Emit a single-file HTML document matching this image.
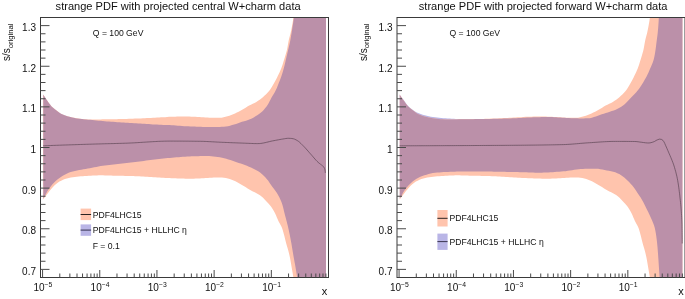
<!DOCTYPE html>
<html><head><meta charset="utf-8"><title>strange PDF</title>
<style>
html,body{margin:0;padding:0;background:#fff;}
body{width:685px;height:299px;overflow:hidden;}
svg{display:block;will-change:transform;font-family:"Liberation Sans",Arial,Helvetica,sans-serif;fill:#111;}
</style></head><body>
<svg width="685" height="299" viewBox="0 0 685 299">
<rect width="685" height="299" fill="#fff"/>
<clipPath id="c40"><rect x="40.50" y="17.50" width="288.00" height="260.00"/></clipPath>
<g clip-path="url(#c40)">
<path d="M43.20 94.50 L44.36 96.24 L45.53 97.98 L46.71 99.70 L47.88 101.44 L49.08 103.15 L50.33 104.83 L51.68 106.43 L53.20 107.84 L54.85 109.15 L56.52 110.42 L58.19 111.70 L59.90 112.92 L61.69 113.97 L63.59 114.82 L65.57 115.55 L67.55 116.20 L69.56 116.79 L71.59 117.30 L73.64 117.74 L75.70 118.13 L77.76 118.47 L79.83 118.75 L81.90 119.01 L83.98 119.24 L86.06 119.46 L88.15 119.67 L90.23 119.87 L92.31 120.08 L94.39 120.29 L96.48 120.48 L98.56 120.67 L100.64 120.86 L102.73 121.03 L104.81 121.21 L106.90 121.38 L108.98 121.55 L111.07 121.71 L113.15 121.87 L115.24 122.02 L117.33 122.16 L119.41 122.30 L121.50 122.44 L123.59 122.58 L125.68 122.71 L127.76 122.84 L129.85 122.97 L131.94 123.09 L134.03 123.22 L136.12 123.34 L138.20 123.46 L140.29 123.59 L142.38 123.71 L144.47 123.84 L146.56 123.98 L148.64 124.11 L150.73 124.25 L152.82 124.38 L154.91 124.51 L157.00 124.62 L159.09 124.73 L161.17 124.83 L163.26 124.92 L165.35 124.99 L167.45 125.04 L169.54 125.09 L171.63 125.17 L173.71 125.31 L175.80 125.48 L177.88 125.67 L179.97 125.85 L182.05 126.01 L184.14 126.14 L186.23 126.25 L188.32 126.35 L190.41 126.45 L192.50 126.54 L194.59 126.62 L196.68 126.70 L198.77 126.77 L200.86 126.86 L202.95 126.94 L205.04 127.01 L207.13 127.07 L209.22 127.10 L211.31 127.10 L213.41 127.08 L215.50 127.05 L217.59 127.00 L219.68 126.94 L221.77 126.86 L223.86 126.70 L225.94 126.47 L228.00 126.15 L230.03 125.67 L232.06 125.10 L234.07 124.51 L236.06 123.89 L238.04 123.21 L240.02 122.52 L242.01 121.87 L244.03 121.29 L246.05 120.72 L248.03 120.08 L249.95 119.30 L251.85 118.40 L253.71 117.41 L255.52 116.35 L257.28 115.25 L259.02 114.04 L260.68 112.75 L262.23 111.38 L263.69 109.89 L265.07 108.30 L266.36 106.63 L267.55 104.92 L268.62 103.14 L269.61 101.29 L270.57 99.42 L271.56 97.57 L272.61 95.76 L273.70 93.97 L274.76 92.16 L275.74 90.32 L276.62 88.43 L277.43 86.50 L278.20 84.55 L278.96 82.60 L279.72 80.65 L280.48 78.70 L281.20 76.74 L281.88 74.76 L282.51 72.77 L283.10 70.76 L283.67 68.74 L284.20 66.72 L284.70 64.69 L285.18 62.66 L285.66 60.62 L286.13 58.58 L286.60 56.54 L287.07 54.50 L287.53 52.46 L288.00 50.42 L288.49 48.39 L288.99 46.36 L289.49 44.33 L289.94 42.29 L290.34 40.23 L290.71 38.17 L291.05 36.11 L291.39 34.05 L291.73 31.98 L292.06 29.92 L292.38 27.85 L292.70 25.78 L293.01 23.71 L293.32 21.64 L293.61 19.57 L293.90 17.50 L326.00 17.50 L326.00 277.50 L297.20 277.50 L296.87 275.34 L296.52 273.19 L296.17 271.04 L295.81 268.89 L295.43 266.74 L295.04 264.60 L294.65 262.45 L294.25 260.31 L293.86 258.16 L293.48 256.01 L293.11 253.87 L292.75 251.71 L292.40 249.56 L292.05 247.41 L291.70 245.26 L291.32 243.11 L290.93 240.97 L290.53 238.82 L290.11 236.68 L289.69 234.54 L289.25 232.40 L288.80 230.27 L288.33 228.14 L287.84 226.02 L287.31 223.90 L286.76 221.79 L286.22 219.68 L285.65 217.57 L285.08 215.47 L284.52 213.36 L284.00 211.24 L283.52 209.11 L283.03 206.98 L282.47 204.89 L281.73 202.83 L280.91 200.81 L280.02 198.81 L279.07 196.84 L278.06 194.92 L276.93 193.06 L275.69 191.26 L274.42 189.48 L273.07 187.77 L271.76 186.03 L270.55 184.21 L269.35 182.38 L268.09 180.61 L266.71 178.92 L265.26 177.29 L263.73 175.74 L262.13 174.26 L260.44 172.86 L258.68 171.58 L256.83 170.41 L254.93 169.38 L252.97 168.42 L250.98 167.51 L248.97 166.65 L246.94 165.83 L244.91 165.05 L242.87 164.30 L240.80 163.60 L238.73 162.91 L236.66 162.22 L234.59 161.52 L232.53 160.80 L230.46 160.10 L228.39 159.43 L226.29 158.83 L224.19 158.28 L222.06 157.76 L219.92 157.31 L217.78 156.97 L215.62 156.68 L213.45 156.40 L211.27 156.18 L209.09 156.03 L206.92 156.00 L204.74 156.01 L202.56 156.04 L200.38 156.09 L198.20 156.14 L196.02 156.20 L193.84 156.27 L191.66 156.34 L189.48 156.42 L187.30 156.52 L185.12 156.64 L182.95 156.79 L180.77 156.95 L178.60 157.13 L176.42 157.32 L174.25 157.51 L172.08 157.71 L169.91 157.91 L167.74 158.11 L165.57 158.33 L163.40 158.56 L161.23 158.79 L159.07 159.04 L156.90 159.30 L154.74 159.56 L152.57 159.82 L150.41 160.09 L148.24 160.36 L146.08 160.62 L143.91 160.89 L141.75 161.15 L139.58 161.41 L137.42 161.67 L135.25 161.93 L133.09 162.19 L130.92 162.45 L128.76 162.72 L126.59 162.98 L124.43 163.25 L122.26 163.52 L120.10 163.78 L117.93 164.04 L115.77 164.31 L113.60 164.56 L111.44 164.81 L109.27 165.04 L107.10 165.28 L104.93 165.53 L102.77 165.81 L100.61 166.11 L98.46 166.46 L96.32 166.89 L94.19 167.35 L92.05 167.79 L89.91 168.19 L87.76 168.57 L85.61 168.94 L83.46 169.30 L81.31 169.69 L79.17 170.10 L77.04 170.55 L74.90 171.01 L72.77 171.53 L70.68 172.12 L68.64 172.84 L66.64 173.73 L64.69 174.71 L62.78 175.77 L60.92 176.92 L59.13 178.15 L57.38 179.48 L55.71 180.89 L54.15 182.39 L52.68 184.01 L51.29 185.69 L49.95 187.41 L48.68 189.19 L47.49 191.02 L46.43 192.92 L45.46 194.88 L44.43 196.80 L43.20 198.60Z" fill="#b9b5e6"/>
<defs><path id="oc40" d="M43.20 94.60 L44.32 96.28 L45.45 97.96 L46.59 99.63 L47.72 101.30 L48.87 102.96 L50.07 104.59 L51.34 106.16 L52.77 107.56 L54.33 108.85 L55.95 110.08 L57.56 111.31 L59.19 112.53 L60.88 113.63 L62.66 114.53 L64.54 115.30 L66.46 115.96 L68.39 116.53 L70.36 117.03 L72.33 117.45 L74.31 117.83 L76.31 118.17 L78.31 118.44 L80.31 118.69 L82.32 118.93 L84.33 119.16 L86.35 119.36 L88.36 119.50 L90.38 119.59 L92.40 119.60 L94.42 119.56 L96.44 119.50 L98.46 119.44 L100.48 119.39 L102.50 119.36 L104.52 119.34 L106.54 119.31 L108.56 119.29 L110.58 119.27 L112.59 119.24 L114.61 119.21 L116.63 119.17 L118.65 119.12 L120.67 119.08 L122.69 119.02 L124.71 118.96 L126.73 118.90 L128.75 118.83 L130.77 118.76 L132.79 118.69 L134.81 118.62 L136.82 118.54 L138.84 118.46 L140.86 118.39 L142.88 118.30 L144.90 118.22 L146.91 118.12 L148.93 118.03 L150.95 117.93 L152.97 117.82 L154.98 117.71 L157.00 117.60 L159.02 117.49 L161.04 117.37 L163.05 117.25 L165.07 117.13 L167.08 116.99 L169.10 116.84 L171.11 116.76 L173.13 116.69 L175.15 116.63 L177.17 116.58 L179.19 116.54 L181.21 116.51 L183.23 116.50 L185.25 116.51 L187.27 116.55 L189.29 116.61 L191.31 116.68 L193.33 116.76 L195.35 116.84 L197.37 116.92 L199.38 117.04 L201.40 117.18 L203.41 117.33 L205.43 117.48 L207.45 117.60 L209.46 117.68 L211.48 117.72 L213.51 117.75 L215.53 117.77 L217.56 117.79 L219.57 117.80 L221.57 117.75 L223.55 117.31 L225.52 116.84 L227.47 116.31 L229.38 115.66 L231.27 114.93 L233.15 114.20 L235.02 113.43 L236.85 112.59 L238.64 111.66 L240.41 110.67 L242.16 109.66 L243.92 108.66 L245.66 107.63 L247.39 106.59 L249.14 105.58 L250.92 104.63 L252.75 103.75 L254.57 102.88 L256.34 101.92 L258.05 100.84 L259.72 99.69 L261.33 98.46 L262.88 97.18 L264.39 95.84 L265.86 94.43 L267.28 92.97 L268.63 91.46 L269.88 89.90 L271.03 88.26 L272.10 86.54 L273.12 84.78 L274.11 83.01 L275.10 81.25 L276.05 79.47 L276.98 77.67 L277.88 75.86 L278.76 74.04 L279.61 72.21 L280.44 70.36 L281.22 68.50 L281.92 66.61 L282.56 64.70 L283.16 62.77 L283.75 60.83 L284.34 58.90 L284.94 56.97 L285.53 55.03 L286.10 53.09 L286.62 51.15 L287.08 49.18 L287.47 47.20 L287.82 45.21 L288.17 43.22 L288.54 41.23 L288.97 39.26 L289.48 37.31 L290.02 35.36 L290.51 33.40 L290.94 31.43 L291.35 29.45 L291.75 27.47 L292.13 25.49 L292.48 23.50 L292.82 21.51 L293.12 19.51 L293.40 17.50 L326.00 17.50 L326.00 277.50 L293.40 277.50 L293.06 275.51 L292.72 273.52 L292.37 271.53 L292.02 269.55 L291.68 267.56 L291.35 265.56 L291.01 263.57 L290.67 261.58 L290.32 259.59 L289.94 257.61 L289.54 255.64 L289.09 253.68 L288.60 251.72 L288.06 249.78 L287.49 247.84 L286.93 245.90 L286.37 243.96 L285.83 242.01 L285.33 240.04 L284.85 238.07 L284.37 236.10 L283.87 234.13 L283.35 232.18 L282.77 230.26 L282.13 228.37 L281.38 226.53 L280.46 224.73 L279.48 222.95 L278.52 221.16 L277.67 219.33 L276.87 217.47 L276.09 215.60 L275.27 213.75 L274.38 211.96 L273.39 210.21 L272.31 208.49 L271.17 206.81 L269.96 205.20 L268.65 203.68 L267.23 202.24 L265.81 200.80 L264.42 199.31 L263.03 197.84 L261.56 196.46 L259.98 195.26 L258.27 194.18 L256.50 193.17 L254.71 192.24 L252.88 191.38 L251.07 190.49 L249.33 189.48 L247.61 188.42 L245.88 187.37 L244.14 186.35 L242.40 185.33 L240.67 184.30 L238.95 183.22 L237.23 182.16 L235.45 181.24 L233.59 180.45 L231.70 179.74 L229.79 179.08 L227.86 178.44 L225.91 177.98 L223.91 177.65 L221.90 177.43 L219.89 177.41 L217.87 177.45 L215.86 177.53 L213.84 177.62 L211.82 177.72 L209.80 177.82 L207.79 177.93 L205.77 178.05 L203.76 178.18 L201.75 178.31 L199.73 178.41 L197.72 178.52 L195.70 178.62 L193.68 178.72 L191.67 178.78 L189.65 178.80 L187.63 178.76 L185.61 178.70 L183.60 178.62 L181.58 178.55 L179.56 178.48 L177.55 178.41 L175.53 178.33 L173.51 178.25 L171.50 178.17 L169.48 178.08 L167.47 177.98 L165.45 177.88 L163.44 177.77 L161.42 177.66 L159.41 177.54 L157.39 177.42 L155.38 177.31 L153.36 177.19 L151.35 177.07 L149.33 176.96 L147.32 176.84 L145.30 176.72 L143.29 176.60 L141.27 176.47 L139.26 176.36 L137.24 176.25 L135.23 176.16 L133.21 176.09 L131.20 176.03 L129.18 175.98 L127.16 175.94 L125.14 175.90 L123.13 175.86 L121.11 175.83 L119.09 175.79 L117.07 175.75 L115.05 175.70 L113.04 175.65 L111.02 175.58 L109.00 175.51 L106.98 175.44 L104.97 175.38 L102.95 175.33 L100.93 175.30 L98.92 175.31 L96.90 175.38 L94.88 175.50 L92.87 175.62 L90.85 175.73 L88.84 175.84 L86.82 175.94 L84.81 176.05 L82.79 176.17 L80.78 176.30 L78.77 176.45 L76.76 176.64 L74.75 176.89 L72.76 177.20 L70.77 177.57 L68.80 178.00 L66.85 178.50 L64.92 179.11 L63.03 179.82 L61.19 180.65 L59.40 181.61 L57.70 182.70 L56.11 183.91 L54.61 185.28 L53.19 186.72 L51.85 188.22 L50.57 189.79 L49.31 191.37 L48.06 192.96 L46.84 194.56 L45.61 196.17 L44.40 197.78 L43.20 199.40Z"/></defs>
<use href="#oc40" fill="#ffc4ad"/>
<clipPath id="bc40"><path d="M43.20 94.50 L44.36 96.24 L45.53 97.98 L46.71 99.70 L47.88 101.44 L49.08 103.15 L50.33 104.83 L51.68 106.43 L53.20 107.84 L54.85 109.15 L56.52 110.42 L58.19 111.70 L59.90 112.92 L61.69 113.97 L63.59 114.82 L65.57 115.55 L67.55 116.20 L69.56 116.79 L71.59 117.30 L73.64 117.74 L75.70 118.13 L77.76 118.47 L79.83 118.75 L81.90 119.01 L83.98 119.24 L86.06 119.46 L88.15 119.67 L90.23 119.87 L92.31 120.08 L94.39 120.29 L96.48 120.48 L98.56 120.67 L100.64 120.86 L102.73 121.03 L104.81 121.21 L106.90 121.38 L108.98 121.55 L111.07 121.71 L113.15 121.87 L115.24 122.02 L117.33 122.16 L119.41 122.30 L121.50 122.44 L123.59 122.58 L125.68 122.71 L127.76 122.84 L129.85 122.97 L131.94 123.09 L134.03 123.22 L136.12 123.34 L138.20 123.46 L140.29 123.59 L142.38 123.71 L144.47 123.84 L146.56 123.98 L148.64 124.11 L150.73 124.25 L152.82 124.38 L154.91 124.51 L157.00 124.62 L159.09 124.73 L161.17 124.83 L163.26 124.92 L165.35 124.99 L167.45 125.04 L169.54 125.09 L171.63 125.17 L173.71 125.31 L175.80 125.48 L177.88 125.67 L179.97 125.85 L182.05 126.01 L184.14 126.14 L186.23 126.25 L188.32 126.35 L190.41 126.45 L192.50 126.54 L194.59 126.62 L196.68 126.70 L198.77 126.77 L200.86 126.86 L202.95 126.94 L205.04 127.01 L207.13 127.07 L209.22 127.10 L211.31 127.10 L213.41 127.08 L215.50 127.05 L217.59 127.00 L219.68 126.94 L221.77 126.86 L223.86 126.70 L225.94 126.47 L228.00 126.15 L230.03 125.67 L232.06 125.10 L234.07 124.51 L236.06 123.89 L238.04 123.21 L240.02 122.52 L242.01 121.87 L244.03 121.29 L246.05 120.72 L248.03 120.08 L249.95 119.30 L251.85 118.40 L253.71 117.41 L255.52 116.35 L257.28 115.25 L259.02 114.04 L260.68 112.75 L262.23 111.38 L263.69 109.89 L265.07 108.30 L266.36 106.63 L267.55 104.92 L268.62 103.14 L269.61 101.29 L270.57 99.42 L271.56 97.57 L272.61 95.76 L273.70 93.97 L274.76 92.16 L275.74 90.32 L276.62 88.43 L277.43 86.50 L278.20 84.55 L278.96 82.60 L279.72 80.65 L280.48 78.70 L281.20 76.74 L281.88 74.76 L282.51 72.77 L283.10 70.76 L283.67 68.74 L284.20 66.72 L284.70 64.69 L285.18 62.66 L285.66 60.62 L286.13 58.58 L286.60 56.54 L287.07 54.50 L287.53 52.46 L288.00 50.42 L288.49 48.39 L288.99 46.36 L289.49 44.33 L289.94 42.29 L290.34 40.23 L290.71 38.17 L291.05 36.11 L291.39 34.05 L291.73 31.98 L292.06 29.92 L292.38 27.85 L292.70 25.78 L293.01 23.71 L293.32 21.64 L293.61 19.57 L293.90 17.50 L326.00 17.50 L326.00 277.50 L297.20 277.50 L296.87 275.34 L296.52 273.19 L296.17 271.04 L295.81 268.89 L295.43 266.74 L295.04 264.60 L294.65 262.45 L294.25 260.31 L293.86 258.16 L293.48 256.01 L293.11 253.87 L292.75 251.71 L292.40 249.56 L292.05 247.41 L291.70 245.26 L291.32 243.11 L290.93 240.97 L290.53 238.82 L290.11 236.68 L289.69 234.54 L289.25 232.40 L288.80 230.27 L288.33 228.14 L287.84 226.02 L287.31 223.90 L286.76 221.79 L286.22 219.68 L285.65 217.57 L285.08 215.47 L284.52 213.36 L284.00 211.24 L283.52 209.11 L283.03 206.98 L282.47 204.89 L281.73 202.83 L280.91 200.81 L280.02 198.81 L279.07 196.84 L278.06 194.92 L276.93 193.06 L275.69 191.26 L274.42 189.48 L273.07 187.77 L271.76 186.03 L270.55 184.21 L269.35 182.38 L268.09 180.61 L266.71 178.92 L265.26 177.29 L263.73 175.74 L262.13 174.26 L260.44 172.86 L258.68 171.58 L256.83 170.41 L254.93 169.38 L252.97 168.42 L250.98 167.51 L248.97 166.65 L246.94 165.83 L244.91 165.05 L242.87 164.30 L240.80 163.60 L238.73 162.91 L236.66 162.22 L234.59 161.52 L232.53 160.80 L230.46 160.10 L228.39 159.43 L226.29 158.83 L224.19 158.28 L222.06 157.76 L219.92 157.31 L217.78 156.97 L215.62 156.68 L213.45 156.40 L211.27 156.18 L209.09 156.03 L206.92 156.00 L204.74 156.01 L202.56 156.04 L200.38 156.09 L198.20 156.14 L196.02 156.20 L193.84 156.27 L191.66 156.34 L189.48 156.42 L187.30 156.52 L185.12 156.64 L182.95 156.79 L180.77 156.95 L178.60 157.13 L176.42 157.32 L174.25 157.51 L172.08 157.71 L169.91 157.91 L167.74 158.11 L165.57 158.33 L163.40 158.56 L161.23 158.79 L159.07 159.04 L156.90 159.30 L154.74 159.56 L152.57 159.82 L150.41 160.09 L148.24 160.36 L146.08 160.62 L143.91 160.89 L141.75 161.15 L139.58 161.41 L137.42 161.67 L135.25 161.93 L133.09 162.19 L130.92 162.45 L128.76 162.72 L126.59 162.98 L124.43 163.25 L122.26 163.52 L120.10 163.78 L117.93 164.04 L115.77 164.31 L113.60 164.56 L111.44 164.81 L109.27 165.04 L107.10 165.28 L104.93 165.53 L102.77 165.81 L100.61 166.11 L98.46 166.46 L96.32 166.89 L94.19 167.35 L92.05 167.79 L89.91 168.19 L87.76 168.57 L85.61 168.94 L83.46 169.30 L81.31 169.69 L79.17 170.10 L77.04 170.55 L74.90 171.01 L72.77 171.53 L70.68 172.12 L68.64 172.84 L66.64 173.73 L64.69 174.71 L62.78 175.77 L60.92 176.92 L59.13 178.15 L57.38 179.48 L55.71 180.89 L54.15 182.39 L52.68 184.01 L51.29 185.69 L49.95 187.41 L48.68 189.19 L47.49 191.02 L46.43 192.92 L45.46 194.88 L44.43 196.80 L43.20 198.60Z"/></clipPath>
<use href="#oc40" fill="#bb90a9" clip-path="url(#bc40)"/>
<polyline points="43.10,145.80 44.60,145.74 46.10,145.69 47.60,145.63 49.10,145.58 50.60,145.52 52.10,145.47 53.61,145.41 55.11,145.36 56.61,145.30 58.11,145.25 59.61,145.20 61.11,145.15 62.61,145.09 64.11,145.04 65.61,144.99 67.11,144.94 68.62,144.89 70.12,144.84 71.62,144.79 73.12,144.74 74.62,144.69 76.12,144.64 77.62,144.59 79.12,144.54 80.62,144.49 82.12,144.45 83.63,144.40 85.13,144.35 86.63,144.30 88.13,144.26 89.63,144.21 91.13,144.17 92.63,144.12 94.13,144.07 95.63,144.03 97.14,143.98 98.64,143.94 100.14,143.90 101.64,143.85 103.14,143.81 104.64,143.77 106.14,143.73 107.64,143.70 109.15,143.66 110.65,143.62 112.15,143.58 113.65,143.55 115.15,143.51 116.65,143.47 118.15,143.43 119.66,143.39 121.16,143.35 122.66,143.31 124.16,143.26 125.66,143.21 127.16,143.16 128.66,143.10 130.16,143.03 131.66,142.96 133.16,142.88 134.66,142.80 136.16,142.71 137.66,142.62 139.16,142.53 140.66,142.44 142.16,142.34 143.66,142.24 145.16,142.15 146.66,142.05 148.16,141.95 149.66,141.86 151.16,141.77 152.66,141.68 154.16,141.60 155.66,141.52 157.16,141.44 158.66,141.37 160.16,141.31 161.66,141.25 163.16,141.21 164.66,141.17 166.16,141.13 167.66,141.11 169.16,141.10 170.66,141.10 172.16,141.10 173.67,141.10 175.17,141.11 176.67,141.11 178.17,141.12 179.67,141.12 181.18,141.13 182.68,141.14 184.18,141.15 185.68,141.16 187.18,141.17 188.69,141.18 190.19,141.20 191.69,141.21 193.19,141.22 194.69,141.24 196.20,141.26 197.70,141.27 199.20,141.29 200.70,141.31 202.20,141.34 203.70,141.38 205.20,141.44 206.70,141.50 208.20,141.57 209.70,141.65 211.20,141.73 212.70,141.81 214.20,141.90 215.70,141.98 217.20,142.07 218.70,142.14 220.20,142.22 221.70,142.29 223.20,142.35 224.70,142.41 226.20,142.47 227.71,142.53 229.21,142.59 230.71,142.65 232.21,142.71 233.71,142.77 235.21,142.82 236.71,142.88 238.21,142.94 239.71,142.99 241.21,143.05 242.72,143.11 244.22,143.17 245.73,143.24 247.23,143.30 248.74,143.37 250.24,143.43 251.74,143.48 253.24,143.53 254.74,143.57 256.23,143.59 257.73,143.60 259.21,143.57 260.70,143.44 262.17,143.23 263.65,142.96 265.13,142.65 266.60,142.30 268.07,141.94 269.55,141.57 271.02,141.23 272.49,140.92 273.97,140.64 275.45,140.36 276.92,140.08 278.40,139.80 279.88,139.53 281.35,139.27 282.84,139.03 284.32,138.77 285.81,138.51 287.30,138.33 288.79,138.31 290.31,138.38 291.81,138.51 293.26,138.72 294.70,139.20 296.09,139.88 297.38,140.61 298.59,141.43 299.74,142.39 300.85,143.44 301.93,144.53 303.00,145.60 304.06,146.66 305.09,147.75 306.10,148.86 307.09,149.99 308.08,151.12 309.07,152.26 310.06,153.39 311.07,154.51 312.06,155.64 313.04,156.79 314.02,157.94 315.01,159.07 316.01,160.19 317.04,161.27 318.11,162.32 319.24,163.29 320.45,164.20 321.65,165.11 322.79,166.09 323.94,167.14 324.54,168.37 324.94,169.73 325.20,171.24 325.30,172.90" fill="none" stroke="#553f4e" stroke-width="0.65"/>
</g>
<rect x="40.50" y="17.50" width="288.00" height="260.00" fill="none" stroke="#3a3a3a" stroke-width="1"/>
<path d="M40.50 25.62 h9M40.50 33.75 h5M40.50 41.88 h5M40.50 50.00 h5M40.50 58.13 h5M40.50 66.25 h9M40.50 74.37 h5M40.50 82.50 h5M40.50 90.62 h5M40.50 98.75 h5M40.50 106.87 h9M40.50 115.00 h5M40.50 123.12 h5M40.50 131.25 h5M40.50 139.38 h5M40.50 147.50 h9M40.50 155.63 h5M40.50 163.75 h5M40.50 171.87 h5M40.50 180.00 h5M40.50 188.12 h9M40.50 196.25 h5M40.50 204.37 h5M40.50 212.50 h5M40.50 220.62 h5M40.50 228.75 h9M40.50 236.88 h5M40.50 245.00 h5M40.50 253.12 h5M40.50 261.25 h5M40.50 269.38 h9M42.57 277.50 v-7.5M59.79 277.50 v-4.0M69.86 277.50 v-4.0M77.00 277.50 v-4.0M82.54 277.50 v-4.0M87.07 277.50 v-4.0M90.90 277.50 v-4.0M94.22 277.50 v-4.0M97.14 277.50 v-4.0M99.76 277.50 v-7.5M116.98 277.50 v-4.0M127.05 277.50 v-4.0M134.19 277.50 v-4.0M139.73 277.50 v-4.0M144.26 277.50 v-4.0M148.09 277.50 v-4.0M151.41 277.50 v-4.0M154.33 277.50 v-4.0M156.95 277.50 v-7.5M174.17 277.50 v-4.0M184.24 277.50 v-4.0M191.38 277.50 v-4.0M196.92 277.50 v-4.0M201.45 277.50 v-4.0M205.28 277.50 v-4.0M208.60 277.50 v-4.0M211.52 277.50 v-4.0M214.14 277.50 v-7.5M231.36 277.50 v-4.0M241.43 277.50 v-4.0M248.57 277.50 v-4.0M254.11 277.50 v-4.0M258.64 277.50 v-4.0M262.47 277.50 v-4.0M265.79 277.50 v-4.0M268.71 277.50 v-4.0M271.33 277.50 v-7.5M288.55 277.50 v-4.0M298.62 277.50 v-4.0M305.76 277.50 v-4.0M311.30 277.50 v-4.0M315.83 277.50 v-4.0M319.66 277.50 v-4.0M322.98 277.50 v-4.0M325.90 277.50 v-4.0" stroke="#4a4a4a" stroke-width="1" fill="none"/>
<text x="36.00" y="31.02" text-anchor="end" font-size="10">1.3</text>
<text x="36.00" y="71.65" text-anchor="end" font-size="10">1.2</text>
<text x="36.00" y="112.28" text-anchor="end" font-size="10">1.1</text>
<text x="36.00" y="152.90" text-anchor="end" font-size="10">1</text>
<text x="36.00" y="193.53" text-anchor="end" font-size="10">0.9</text>
<text x="36.00" y="234.15" text-anchor="end" font-size="10">0.8</text>
<text x="36.00" y="274.77" text-anchor="end" font-size="10">0.7</text>
<text x="42.87" y="291" text-anchor="middle" font-size="10">10<tspan dy="-4.3" font-size="6.8">−5</tspan></text>
<text x="100.06" y="291" text-anchor="middle" font-size="10">10<tspan dy="-4.3" font-size="6.8">−4</tspan></text>
<text x="157.25" y="291" text-anchor="middle" font-size="10">10<tspan dy="-4.3" font-size="6.8">−3</tspan></text>
<text x="214.44" y="291" text-anchor="middle" font-size="10">10<tspan dy="-4.3" font-size="6.8">−2</tspan></text>
<text x="271.63" y="291" text-anchor="middle" font-size="10">10<tspan dy="-4.3" font-size="6.8">−1</tspan></text>
<text x="327.30" y="294.6" text-anchor="end" font-size="11">x</text>
<text transform="translate(10.20,61) rotate(-90)" font-size="10">s/s<tspan dy="2.5" font-size="7.7">original</tspan></text>
<text x="55.60" y="10.2" font-size="11.07">strange PDF with projected central W+charm data</text>
<text x="92.80" y="36.4" font-size="8.64">Q = 100 GeV</text>
<rect x="80.6" y="208.6" width="10.5" height="11.5" fill="#ffc4ad"/>
<path d="M80.6 214.5h10.5" stroke="#2a2220" stroke-width="1"/>
<rect x="80.6" y="224.4" width="10.5" height="11.4" fill="#b9b5e6"/>
<path d="M80.6 230.1h10.5" stroke="#4a4668" stroke-width="1.2"/>
<text x="92.7" y="217.7" font-size="8.64">PDF4LHC15</text>
<text x="92.7" y="233.2" font-size="8.64">PDF4LHC15 + HLLHC η</text>
<text x="92.7" y="248.8" font-size="8.64">F = 0.1</text>
<clipPath id="c397"><rect x="397.00" y="17.50" width="288.00" height="260.00"/></clipPath>
<g clip-path="url(#c397)">
<path d="M399.60 94.60 L400.87 96.26 L402.13 97.93 L403.39 99.61 L404.62 101.31 L405.81 103.04 L407.07 104.71 L408.49 106.24 L410.04 107.65 L411.65 109.00 L413.32 110.28 L415.08 111.38 L416.92 112.40 L418.83 113.31 L420.76 114.09 L422.74 114.75 L424.76 115.33 L426.80 115.84 L428.84 116.29 L430.90 116.68 L432.97 117.03 L435.04 117.31 L437.12 117.57 L439.20 117.80 L441.29 118.02 L443.37 118.21 L445.46 118.37 L447.55 118.50 L449.64 118.62 L451.73 118.72 L453.82 118.83 L455.92 118.92 L458.01 118.99 L460.11 119.05 L462.20 119.09 L464.29 119.10 L466.39 119.10 L468.48 119.09 L470.58 119.09 L472.67 119.08 L474.76 119.07 L476.86 119.05 L478.95 119.04 L481.05 119.02 L483.14 119.01 L485.24 118.99 L487.33 118.96 L489.42 118.93 L491.52 118.90 L493.61 118.85 L495.71 118.81 L497.80 118.76 L499.89 118.71 L501.99 118.65 L504.08 118.60 L506.17 118.54 L508.27 118.47 L510.36 118.39 L512.45 118.31 L514.54 118.22 L516.64 118.14 L518.73 118.05 L520.82 117.94 L522.91 117.83 L525.00 117.72 L527.10 117.60 L529.19 117.50 L531.28 117.40 L533.37 117.32 L535.46 117.25 L537.56 117.19 L539.65 117.13 L541.75 117.07 L543.84 117.03 L545.93 117.01 L548.03 117.00 L550.12 117.04 L552.21 117.12 L554.30 117.23 L556.40 117.35 L558.49 117.48 L560.58 117.59 L562.67 117.70 L564.76 117.82 L566.85 117.95 L568.94 118.08 L571.04 118.19 L573.13 118.27 L575.22 118.32 L577.31 118.36 L579.41 118.39 L581.50 118.40 L583.61 118.39 L585.71 118.37 L587.80 118.33 L589.86 118.23 L591.90 117.74 L593.92 117.09 L595.90 116.41 L597.85 115.63 L599.82 114.92 L601.81 114.28 L603.81 113.66 L605.81 113.04 L607.81 112.41 L609.80 111.77 L611.79 111.11 L613.76 110.40 L615.72 109.63 L617.63 108.78 L619.48 107.82 L621.30 106.74 L623.04 105.57 L624.66 104.29 L626.17 102.87 L627.62 101.34 L629.03 99.77 L630.45 98.20 L631.89 96.68 L633.37 95.18 L634.84 93.68 L636.27 92.15 L637.64 90.57 L638.91 88.93 L640.11 87.22 L641.26 85.46 L642.38 83.68 L643.47 81.89 L644.54 80.09 L645.58 78.27 L646.58 76.42 L647.52 74.56 L648.40 72.66 L649.24 70.74 L650.05 68.81 L650.87 66.88 L651.72 64.95 L652.55 63.02 L653.28 61.06 L653.84 59.06 L654.30 57.02 L654.70 54.96 L655.05 52.89 L655.39 50.82 L655.68 48.75 L655.96 46.67 L656.22 44.59 L656.48 42.51 L656.74 40.44 L657.02 38.36 L657.31 36.28 L657.57 34.21 L657.78 32.13 L657.97 30.04 L658.16 27.96 L658.33 25.87 L658.48 23.78 L658.61 21.69 L658.72 19.60 L658.80 17.50 L682.50 17.50 L682.50 277.50 L659.60 277.50 L659.46 275.33 L659.31 273.15 L659.17 270.98 L659.02 268.81 L658.88 266.63 L658.74 264.46 L658.60 262.28 L658.46 260.11 L658.31 257.94 L658.16 255.76 L658.00 253.59 L657.83 251.42 L657.67 249.24 L657.49 247.07 L657.29 244.90 L657.07 242.74 L656.83 240.57 L656.57 238.40 L656.28 236.23 L655.95 234.06 L655.59 231.91 L655.18 229.78 L654.72 227.67 L654.08 225.59 L653.31 223.55 L652.51 221.52 L651.65 219.52 L650.74 217.54 L649.83 215.56 L648.91 213.58 L647.97 211.62 L647.02 209.66 L646.05 207.70 L645.08 205.75 L644.10 203.80 L643.09 201.87 L642.05 199.96 L640.95 198.09 L639.77 196.26 L638.55 194.45 L637.33 192.64 L636.13 190.81 L634.93 188.99 L633.67 187.22 L632.30 185.53 L630.85 183.91 L629.34 182.33 L627.75 180.85 L626.14 179.37 L624.58 177.84 L622.90 176.47 L621.11 175.20 L619.24 174.08 L617.29 173.13 L615.26 172.31 L613.18 171.67 L611.07 171.17 L608.92 170.76 L606.77 170.38 L604.62 170.00 L602.47 169.57 L600.32 169.16 L598.16 168.87 L596.00 168.75 L593.83 168.76 L591.65 168.77 L589.47 168.80 L587.28 168.83 L585.10 168.87 L582.93 168.91 L580.76 169.03 L578.60 169.24 L576.44 169.52 L574.28 169.84 L572.12 170.19 L569.96 170.53 L567.80 170.86 L565.64 171.14 L563.47 171.36 L561.30 171.53 L559.13 171.69 L556.96 171.85 L554.78 172.00 L552.61 172.15 L550.43 172.29 L548.25 172.41 L546.08 172.51 L543.90 172.60 L541.72 172.66 L539.54 172.69 L537.37 172.70 L535.19 172.67 L533.01 172.62 L530.83 172.54 L528.66 172.45 L526.48 172.37 L524.30 172.28 L522.12 172.21 L519.95 172.16 L517.77 172.11 L515.59 172.06 L513.41 172.01 L511.23 171.96 L509.06 171.92 L506.88 171.88 L504.70 171.84 L502.52 171.80 L500.34 171.76 L498.16 171.73 L495.99 171.69 L493.81 171.66 L491.63 171.62 L489.45 171.59 L487.27 171.56 L485.09 171.53 L482.92 171.51 L480.74 171.50 L478.56 171.50 L476.38 171.50 L474.20 171.50 L472.02 171.50 L469.84 171.50 L467.67 171.50 L465.49 171.50 L463.31 171.50 L461.13 171.52 L458.95 171.55 L456.77 171.60 L454.59 171.66 L452.42 171.72 L450.24 171.80 L448.06 171.88 L445.89 171.97 L443.71 172.08 L441.53 172.22 L439.35 172.38 L437.18 172.58 L435.02 172.80 L432.87 173.11 L430.74 173.58 L428.62 174.09 L426.52 174.66 L424.41 175.24 L422.34 175.91 L420.34 176.75 L418.39 177.75 L416.50 178.83 L414.67 180.02 L412.90 181.31 L411.25 182.70 L409.68 184.21 L408.18 185.81 L406.74 187.45 L405.35 189.13 L404.07 190.89 L403.00 192.79 L402.05 194.77 L401.03 196.70 L399.70 198.40Z" fill="#b9b5e6"/>
<defs><path id="oc397" d="M399.70 94.60 L400.82 96.28 L401.95 97.96 L403.09 99.63 L404.22 101.30 L405.37 102.96 L406.57 104.59 L407.84 106.16 L409.27 107.56 L410.83 108.85 L412.45 110.08 L414.06 111.31 L415.69 112.53 L417.38 113.63 L419.16 114.53 L421.04 115.30 L422.96 115.96 L424.89 116.53 L426.86 117.03 L428.83 117.45 L430.81 117.83 L432.81 118.17 L434.81 118.44 L436.81 118.69 L438.82 118.93 L440.83 119.16 L442.85 119.36 L444.86 119.50 L446.88 119.59 L448.90 119.60 L450.92 119.56 L452.94 119.50 L454.96 119.44 L456.98 119.39 L459.00 119.36 L461.02 119.34 L463.04 119.31 L465.06 119.29 L467.08 119.27 L469.09 119.24 L471.11 119.21 L473.13 119.17 L475.15 119.12 L477.17 119.08 L479.19 119.02 L481.21 118.96 L483.23 118.90 L485.25 118.83 L487.27 118.76 L489.29 118.69 L491.31 118.62 L493.32 118.54 L495.34 118.46 L497.36 118.39 L499.38 118.30 L501.40 118.22 L503.41 118.12 L505.43 118.03 L507.45 117.93 L509.47 117.82 L511.48 117.71 L513.50 117.60 L515.52 117.49 L517.54 117.37 L519.55 117.25 L521.57 117.13 L523.58 116.99 L525.60 116.84 L527.61 116.76 L529.63 116.69 L531.65 116.63 L533.67 116.58 L535.69 116.54 L537.71 116.51 L539.73 116.50 L541.75 116.51 L543.77 116.55 L545.79 116.61 L547.81 116.68 L549.83 116.76 L551.85 116.84 L553.87 116.92 L555.88 117.04 L557.90 117.18 L559.91 117.33 L561.93 117.48 L563.95 117.60 L565.96 117.68 L567.98 117.72 L570.01 117.75 L572.03 117.77 L574.06 117.79 L576.07 117.80 L578.07 117.75 L580.05 117.31 L582.02 116.84 L583.97 116.31 L585.88 115.66 L587.77 114.93 L589.65 114.20 L591.52 113.43 L593.35 112.59 L595.14 111.66 L596.91 110.67 L598.66 109.66 L600.42 108.66 L602.16 107.63 L603.89 106.59 L605.64 105.58 L607.42 104.63 L609.25 103.75 L611.07 102.88 L612.84 101.92 L614.55 100.84 L616.22 99.69 L617.83 98.46 L619.38 97.18 L620.89 95.84 L622.36 94.43 L623.78 92.97 L625.13 91.46 L626.38 89.90 L627.53 88.26 L628.60 86.54 L629.62 84.78 L630.61 83.01 L631.60 81.25 L632.55 79.47 L633.48 77.67 L634.38 75.86 L635.26 74.04 L636.11 72.21 L636.94 70.36 L637.72 68.50 L638.42 66.61 L639.06 64.70 L639.66 62.77 L640.25 60.83 L640.84 58.90 L641.44 56.97 L642.03 55.03 L642.60 53.09 L643.12 51.15 L643.58 49.18 L643.97 47.20 L644.32 45.21 L644.67 43.22 L645.04 41.23 L645.47 39.26 L645.98 37.31 L646.52 35.36 L647.01 33.40 L647.44 31.43 L647.85 29.45 L648.25 27.47 L648.63 25.49 L648.98 23.50 L649.32 21.51 L649.62 19.51 L649.90 17.50 L682.50 17.50 L682.50 277.50 L649.90 277.50 L649.56 275.51 L649.22 273.52 L648.87 271.53 L648.52 269.55 L648.18 267.56 L647.85 265.56 L647.51 263.57 L647.17 261.58 L646.82 259.59 L646.44 257.61 L646.04 255.64 L645.59 253.68 L645.10 251.72 L644.56 249.78 L643.99 247.84 L643.43 245.90 L642.87 243.96 L642.33 242.01 L641.83 240.04 L641.35 238.07 L640.87 236.10 L640.37 234.13 L639.85 232.18 L639.27 230.26 L638.63 228.37 L637.88 226.53 L636.96 224.73 L635.98 222.95 L635.02 221.16 L634.17 219.33 L633.37 217.47 L632.59 215.60 L631.77 213.75 L630.88 211.96 L629.89 210.21 L628.81 208.49 L627.67 206.81 L626.46 205.20 L625.15 203.68 L623.73 202.24 L622.31 200.80 L620.92 199.31 L619.53 197.84 L618.06 196.46 L616.48 195.26 L614.77 194.18 L613.00 193.17 L611.21 192.24 L609.38 191.38 L607.57 190.49 L605.83 189.48 L604.11 188.42 L602.38 187.37 L600.64 186.35 L598.90 185.33 L597.17 184.30 L595.45 183.22 L593.73 182.16 L591.95 181.24 L590.09 180.45 L588.20 179.74 L586.29 179.08 L584.36 178.44 L582.41 177.98 L580.41 177.65 L578.40 177.43 L576.39 177.41 L574.37 177.45 L572.36 177.53 L570.34 177.62 L568.32 177.72 L566.30 177.82 L564.29 177.93 L562.27 178.05 L560.26 178.18 L558.25 178.31 L556.23 178.41 L554.22 178.52 L552.20 178.62 L550.18 178.72 L548.17 178.78 L546.15 178.80 L544.13 178.76 L542.11 178.70 L540.10 178.62 L538.08 178.55 L536.06 178.48 L534.05 178.41 L532.03 178.33 L530.01 178.25 L528.00 178.17 L525.98 178.08 L523.97 177.98 L521.95 177.88 L519.94 177.77 L517.92 177.66 L515.91 177.54 L513.89 177.42 L511.88 177.31 L509.86 177.19 L507.85 177.07 L505.83 176.96 L503.82 176.84 L501.80 176.72 L499.79 176.60 L497.77 176.47 L495.76 176.36 L493.74 176.25 L491.73 176.16 L489.71 176.09 L487.70 176.03 L485.68 175.98 L483.66 175.94 L481.64 175.90 L479.63 175.86 L477.61 175.83 L475.59 175.79 L473.57 175.75 L471.55 175.70 L469.54 175.65 L467.52 175.58 L465.50 175.51 L463.48 175.44 L461.47 175.38 L459.45 175.33 L457.43 175.30 L455.42 175.31 L453.40 175.38 L451.38 175.50 L449.37 175.62 L447.35 175.73 L445.34 175.84 L443.32 175.94 L441.31 176.05 L439.29 176.17 L437.28 176.30 L435.27 176.45 L433.26 176.64 L431.25 176.89 L429.26 177.20 L427.27 177.57 L425.30 178.00 L423.35 178.50 L421.42 179.11 L419.53 179.82 L417.69 180.65 L415.90 181.61 L414.20 182.70 L412.61 183.91 L411.11 185.28 L409.69 186.72 L408.35 188.22 L407.07 189.79 L405.81 191.37 L404.56 192.96 L403.34 194.56 L402.11 196.17 L400.90 197.78 L399.70 199.40Z"/></defs>
<use href="#oc397" fill="#ffc4ad"/>
<clipPath id="bc397"><path d="M399.60 94.60 L400.87 96.26 L402.13 97.93 L403.39 99.61 L404.62 101.31 L405.81 103.04 L407.07 104.71 L408.49 106.24 L410.04 107.65 L411.65 109.00 L413.32 110.28 L415.08 111.38 L416.92 112.40 L418.83 113.31 L420.76 114.09 L422.74 114.75 L424.76 115.33 L426.80 115.84 L428.84 116.29 L430.90 116.68 L432.97 117.03 L435.04 117.31 L437.12 117.57 L439.20 117.80 L441.29 118.02 L443.37 118.21 L445.46 118.37 L447.55 118.50 L449.64 118.62 L451.73 118.72 L453.82 118.83 L455.92 118.92 L458.01 118.99 L460.11 119.05 L462.20 119.09 L464.29 119.10 L466.39 119.10 L468.48 119.09 L470.58 119.09 L472.67 119.08 L474.76 119.07 L476.86 119.05 L478.95 119.04 L481.05 119.02 L483.14 119.01 L485.24 118.99 L487.33 118.96 L489.42 118.93 L491.52 118.90 L493.61 118.85 L495.71 118.81 L497.80 118.76 L499.89 118.71 L501.99 118.65 L504.08 118.60 L506.17 118.54 L508.27 118.47 L510.36 118.39 L512.45 118.31 L514.54 118.22 L516.64 118.14 L518.73 118.05 L520.82 117.94 L522.91 117.83 L525.00 117.72 L527.10 117.60 L529.19 117.50 L531.28 117.40 L533.37 117.32 L535.46 117.25 L537.56 117.19 L539.65 117.13 L541.75 117.07 L543.84 117.03 L545.93 117.01 L548.03 117.00 L550.12 117.04 L552.21 117.12 L554.30 117.23 L556.40 117.35 L558.49 117.48 L560.58 117.59 L562.67 117.70 L564.76 117.82 L566.85 117.95 L568.94 118.08 L571.04 118.19 L573.13 118.27 L575.22 118.32 L577.31 118.36 L579.41 118.39 L581.50 118.40 L583.61 118.39 L585.71 118.37 L587.80 118.33 L589.86 118.23 L591.90 117.74 L593.92 117.09 L595.90 116.41 L597.85 115.63 L599.82 114.92 L601.81 114.28 L603.81 113.66 L605.81 113.04 L607.81 112.41 L609.80 111.77 L611.79 111.11 L613.76 110.40 L615.72 109.63 L617.63 108.78 L619.48 107.82 L621.30 106.74 L623.04 105.57 L624.66 104.29 L626.17 102.87 L627.62 101.34 L629.03 99.77 L630.45 98.20 L631.89 96.68 L633.37 95.18 L634.84 93.68 L636.27 92.15 L637.64 90.57 L638.91 88.93 L640.11 87.22 L641.26 85.46 L642.38 83.68 L643.47 81.89 L644.54 80.09 L645.58 78.27 L646.58 76.42 L647.52 74.56 L648.40 72.66 L649.24 70.74 L650.05 68.81 L650.87 66.88 L651.72 64.95 L652.55 63.02 L653.28 61.06 L653.84 59.06 L654.30 57.02 L654.70 54.96 L655.05 52.89 L655.39 50.82 L655.68 48.75 L655.96 46.67 L656.22 44.59 L656.48 42.51 L656.74 40.44 L657.02 38.36 L657.31 36.28 L657.57 34.21 L657.78 32.13 L657.97 30.04 L658.16 27.96 L658.33 25.87 L658.48 23.78 L658.61 21.69 L658.72 19.60 L658.80 17.50 L682.50 17.50 L682.50 277.50 L659.60 277.50 L659.46 275.33 L659.31 273.15 L659.17 270.98 L659.02 268.81 L658.88 266.63 L658.74 264.46 L658.60 262.28 L658.46 260.11 L658.31 257.94 L658.16 255.76 L658.00 253.59 L657.83 251.42 L657.67 249.24 L657.49 247.07 L657.29 244.90 L657.07 242.74 L656.83 240.57 L656.57 238.40 L656.28 236.23 L655.95 234.06 L655.59 231.91 L655.18 229.78 L654.72 227.67 L654.08 225.59 L653.31 223.55 L652.51 221.52 L651.65 219.52 L650.74 217.54 L649.83 215.56 L648.91 213.58 L647.97 211.62 L647.02 209.66 L646.05 207.70 L645.08 205.75 L644.10 203.80 L643.09 201.87 L642.05 199.96 L640.95 198.09 L639.77 196.26 L638.55 194.45 L637.33 192.64 L636.13 190.81 L634.93 188.99 L633.67 187.22 L632.30 185.53 L630.85 183.91 L629.34 182.33 L627.75 180.85 L626.14 179.37 L624.58 177.84 L622.90 176.47 L621.11 175.20 L619.24 174.08 L617.29 173.13 L615.26 172.31 L613.18 171.67 L611.07 171.17 L608.92 170.76 L606.77 170.38 L604.62 170.00 L602.47 169.57 L600.32 169.16 L598.16 168.87 L596.00 168.75 L593.83 168.76 L591.65 168.77 L589.47 168.80 L587.28 168.83 L585.10 168.87 L582.93 168.91 L580.76 169.03 L578.60 169.24 L576.44 169.52 L574.28 169.84 L572.12 170.19 L569.96 170.53 L567.80 170.86 L565.64 171.14 L563.47 171.36 L561.30 171.53 L559.13 171.69 L556.96 171.85 L554.78 172.00 L552.61 172.15 L550.43 172.29 L548.25 172.41 L546.08 172.51 L543.90 172.60 L541.72 172.66 L539.54 172.69 L537.37 172.70 L535.19 172.67 L533.01 172.62 L530.83 172.54 L528.66 172.45 L526.48 172.37 L524.30 172.28 L522.12 172.21 L519.95 172.16 L517.77 172.11 L515.59 172.06 L513.41 172.01 L511.23 171.96 L509.06 171.92 L506.88 171.88 L504.70 171.84 L502.52 171.80 L500.34 171.76 L498.16 171.73 L495.99 171.69 L493.81 171.66 L491.63 171.62 L489.45 171.59 L487.27 171.56 L485.09 171.53 L482.92 171.51 L480.74 171.50 L478.56 171.50 L476.38 171.50 L474.20 171.50 L472.02 171.50 L469.84 171.50 L467.67 171.50 L465.49 171.50 L463.31 171.50 L461.13 171.52 L458.95 171.55 L456.77 171.60 L454.59 171.66 L452.42 171.72 L450.24 171.80 L448.06 171.88 L445.89 171.97 L443.71 172.08 L441.53 172.22 L439.35 172.38 L437.18 172.58 L435.02 172.80 L432.87 173.11 L430.74 173.58 L428.62 174.09 L426.52 174.66 L424.41 175.24 L422.34 175.91 L420.34 176.75 L418.39 177.75 L416.50 178.83 L414.67 180.02 L412.90 181.31 L411.25 182.70 L409.68 184.21 L408.18 185.81 L406.74 187.45 L405.35 189.13 L404.07 190.89 L403.00 192.79 L402.05 194.77 L401.03 196.70 L399.70 198.40Z"/></clipPath>
<use href="#oc397" fill="#bb90a9" clip-path="url(#bc397)"/>
<polyline points="399.60,145.80 401.46,145.79 403.33,145.79 405.19,145.78 407.05,145.78 408.92,145.77 410.78,145.77 412.64,145.76 414.50,145.76 416.37,145.75 418.23,145.74 420.09,145.74 421.96,145.73 423.82,145.72 425.68,145.72 427.55,145.71 429.41,145.71 431.27,145.70 433.14,145.69 435.00,145.68 436.86,145.68 438.72,145.67 440.59,145.66 442.45,145.66 444.31,145.65 446.18,145.64 448.04,145.63 449.90,145.63 451.77,145.62 453.63,145.61 455.49,145.60 457.36,145.59 459.22,145.59 461.08,145.58 462.94,145.57 464.81,145.56 466.67,145.56 468.53,145.55 470.40,145.54 472.26,145.53 474.12,145.52 475.99,145.51 477.85,145.51 479.71,145.50 481.58,145.49 483.44,145.48 485.30,145.47 487.17,145.46 489.03,145.45 490.89,145.44 492.75,145.43 494.62,145.42 496.48,145.41 498.34,145.40 500.21,145.39 502.07,145.38 503.93,145.36 505.80,145.35 507.66,145.34 509.52,145.33 511.38,145.31 513.25,145.30 515.11,145.28 516.97,145.27 518.84,145.25 520.70,145.24 522.56,145.22 524.43,145.21 526.29,145.19 528.16,145.17 530.02,145.15 531.88,145.13 533.75,145.11 535.61,145.09 537.47,145.07 539.34,145.04 541.20,145.02 543.06,144.99 544.93,144.96 546.79,144.93 548.65,144.90 550.52,144.87 552.38,144.83 554.24,144.80 556.10,144.76 557.96,144.72 559.82,144.68 561.69,144.63 563.55,144.59 565.41,144.52 567.27,144.43 569.12,144.32 570.98,144.19 572.84,144.05 574.70,143.90 576.56,143.74 578.41,143.58 580.27,143.42 582.13,143.26 583.99,143.11 585.85,142.97 587.70,142.84 589.56,142.73 591.42,142.61 593.28,142.48 595.14,142.35 597.00,142.22 598.86,142.09 600.72,141.96 602.58,141.84 604.44,141.73 606.31,141.64 608.17,141.55 610.03,141.48 611.89,141.43 613.75,141.41 615.61,141.40 617.48,141.40 619.34,141.40 621.21,141.41 623.07,141.41 624.94,141.42 626.80,141.43 628.67,141.44 630.53,141.46 632.39,141.47 634.25,141.49 636.10,141.54 637.95,141.74 639.80,142.02 641.65,142.28 643.50,142.52 645.36,142.77 647.22,142.95 649.06,142.98 650.91,142.68 652.73,142.16 654.44,141.52 656.04,140.51 657.72,139.69 659.51,139.12 661.36,139.36 662.90,140.35 663.95,141.82 664.78,143.50 665.53,145.26 666.30,146.97 667.04,148.67 667.77,150.39 668.50,152.10 669.24,153.81 669.99,155.52 670.72,157.23 671.44,158.95 672.13,160.68 672.81,162.42 673.46,164.17 674.04,165.94 674.58,167.72 675.10,169.51 675.60,171.31 676.08,173.11 676.53,174.93 676.95,176.74 677.33,178.57 677.67,180.39 677.98,182.22 678.28,184.06 678.55,185.90 678.80,187.75 679.05,189.60 679.28,191.45 679.50,193.31 679.72,195.16 679.93,197.01 680.14,198.86 680.35,200.71 680.54,202.56 680.73,204.42 680.90,206.27 681.06,208.13 681.20,209.99 681.33,211.84 681.46,213.70 681.58,215.56 681.69,217.42 681.79,219.29 681.88,221.15 681.95,223.01 682.00,224.87 682.03,226.73 682.06,228.59 682.09,230.46 682.12,232.32 682.14,234.18 682.16,236.04 682.18,237.91 682.19,239.77 682.20,241.64 682.20,243.50" fill="none" stroke="#553f4e" stroke-width="0.65"/>
</g>
<rect x="397.00" y="17.50" width="288.00" height="260.00" fill="none" stroke="#3a3a3a" stroke-width="1"/>
<path d="M397.00 25.62 h9M397.00 33.75 h5M397.00 41.88 h5M397.00 50.00 h5M397.00 58.13 h5M397.00 66.25 h9M397.00 74.37 h5M397.00 82.50 h5M397.00 90.62 h5M397.00 98.75 h5M397.00 106.87 h9M397.00 115.00 h5M397.00 123.12 h5M397.00 131.25 h5M397.00 139.38 h5M397.00 147.50 h9M397.00 155.63 h5M397.00 163.75 h5M397.00 171.87 h5M397.00 180.00 h5M397.00 188.12 h9M397.00 196.25 h5M397.00 204.37 h5M397.00 212.50 h5M397.00 220.62 h5M397.00 228.75 h9M397.00 236.88 h5M397.00 245.00 h5M397.00 253.12 h5M397.00 261.25 h5M397.00 269.38 h9M399.07 277.50 v-7.5M416.29 277.50 v-4.0M426.36 277.50 v-4.0M433.50 277.50 v-4.0M439.04 277.50 v-4.0M443.57 277.50 v-4.0M447.40 277.50 v-4.0M450.72 277.50 v-4.0M453.64 277.50 v-4.0M456.26 277.50 v-7.5M473.48 277.50 v-4.0M483.55 277.50 v-4.0M490.69 277.50 v-4.0M496.23 277.50 v-4.0M500.76 277.50 v-4.0M504.59 277.50 v-4.0M507.91 277.50 v-4.0M510.83 277.50 v-4.0M513.45 277.50 v-7.5M530.67 277.50 v-4.0M540.74 277.50 v-4.0M547.88 277.50 v-4.0M553.42 277.50 v-4.0M557.95 277.50 v-4.0M561.78 277.50 v-4.0M565.10 277.50 v-4.0M568.02 277.50 v-4.0M570.64 277.50 v-7.5M587.86 277.50 v-4.0M597.93 277.50 v-4.0M605.07 277.50 v-4.0M610.61 277.50 v-4.0M615.14 277.50 v-4.0M618.97 277.50 v-4.0M622.29 277.50 v-4.0M625.21 277.50 v-4.0M627.83 277.50 v-7.5M645.05 277.50 v-4.0M655.12 277.50 v-4.0M662.26 277.50 v-4.0M667.80 277.50 v-4.0M672.33 277.50 v-4.0M676.16 277.50 v-4.0M679.48 277.50 v-4.0M682.40 277.50 v-4.0" stroke="#4a4a4a" stroke-width="1" fill="none"/>
<text x="392.50" y="31.02" text-anchor="end" font-size="10">1.3</text>
<text x="392.50" y="71.65" text-anchor="end" font-size="10">1.2</text>
<text x="392.50" y="112.28" text-anchor="end" font-size="10">1.1</text>
<text x="392.50" y="152.90" text-anchor="end" font-size="10">1</text>
<text x="392.50" y="193.53" text-anchor="end" font-size="10">0.9</text>
<text x="392.50" y="234.15" text-anchor="end" font-size="10">0.8</text>
<text x="392.50" y="274.77" text-anchor="end" font-size="10">0.7</text>
<text x="399.37" y="291" text-anchor="middle" font-size="10">10<tspan dy="-4.3" font-size="6.8">−5</tspan></text>
<text x="456.56" y="291" text-anchor="middle" font-size="10">10<tspan dy="-4.3" font-size="6.8">−4</tspan></text>
<text x="513.75" y="291" text-anchor="middle" font-size="10">10<tspan dy="-4.3" font-size="6.8">−3</tspan></text>
<text x="570.94" y="291" text-anchor="middle" font-size="10">10<tspan dy="-4.3" font-size="6.8">−2</tspan></text>
<text x="628.13" y="291" text-anchor="middle" font-size="10">10<tspan dy="-4.3" font-size="6.8">−1</tspan></text>
<text x="683.80" y="294.6" text-anchor="end" font-size="11">x</text>
<text transform="translate(366.70,61) rotate(-90)" font-size="10">s/s<tspan dy="2.5" font-size="7.7">original</tspan></text>
<text x="418.80" y="10.2" font-size="11.07">strange PDF with projected forward W+charm data</text>
<text x="449.50" y="36.4" font-size="8.64">Q = 100 GeV</text>
<rect x="437.4" y="210" width="10.2" height="16.5" fill="#ffc4ad"/>
<path d="M437.4 218.3h10.2" stroke="#2a2220" stroke-width="1"/>
<rect x="437.4" y="233.6" width="10.2" height="16.3" fill="#b9b5e6"/>
<path d="M437.4 241.6h10.2" stroke="#3a3650" stroke-width="1"/>
<text x="449.5" y="221.2" font-size="8.64">PDF4LHC15</text>
<text x="449.5" y="244.6" font-size="8.64">PDF4LHC15 + HLLHC η</text>
</svg>
</body></html>
